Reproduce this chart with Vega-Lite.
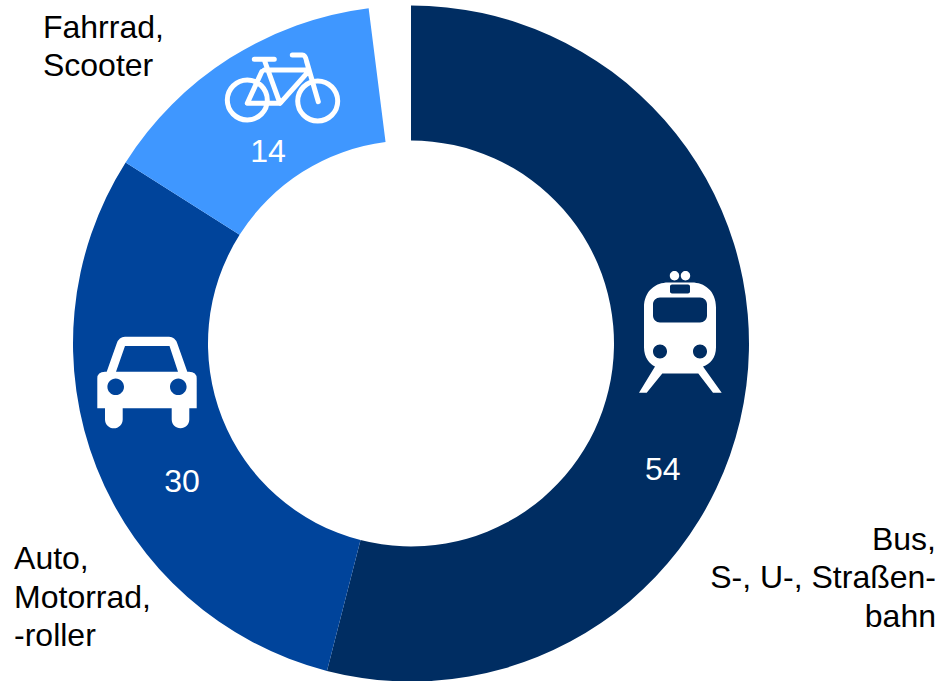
{
"$schema":"https://vega.github.io/schema/vega-lite/v6.json",
"width":822,"height":687,
"autosize":{"type":"none"},
"padding":{"left":0,"top":0,"right":122,"bottom":-6},
"background":"white",
"config":{"view":{"stroke":null}},
"layer":[
{"data":{"values":[
{"mode":"Bus, S-, U-, Straßenbahn","value":54,"ord":1},
{"mode":"Auto, Motorrad, -roller","value":30,"ord":2},
{"mode":"Fahrrad, Scooter","value":14,"ord":3}]},
"mark":{"type":"arc","outerRadius":338,"innerRadius":203},
"encoding":{
"theta":{"field":"value","type":"quantitative","stack":true,"scale":{"domain":[0,100]}},
"order":{"field":"ord","type":"ordinal"},
"color":{"field":"mode","type":"nominal","legend":null,"scale":{"domain":["Bus, S-, U-, Straßenbahn","Auto, Motorrad, -roller","Fahrrad, Scooter"],"range":["#002d62","#00449b","#3f97ff"]}}}},
{"data":{"values":[
{"label":"54","along":32.43,"ring":0.834},
{"label":"30","along":66.32,"ring":0.7926},
{"label":"14","along":89.81,"ring":0.708}]},
"mark":{"type":"text","font":"Liberation Sans","fontSize":32,"color":"white","align":"center","baseline":"middle"},
"encoding":{"theta":{"field":"along","type":"quantitative","stack":false},
"radius":{"field":"ring","type":"quantitative","scale":{"domain":[0,1],"range":[0,338]}},
"text":{"field":"label"}}},
{"data":{"values":[
{"label":"Auto,\nMotorrad,\n-roller","along":67.07,"ring":1.337},
{"label":"Fahrrad,\nScooter","along":86.29,"ring":1.435}]},
"mark":{"type":"text","font":"Liberation Sans","fontSize":32,"color":"black","align":"left","baseline":"middle","lineBreak":"\n","lineHeight":38.5},
"encoding":{"theta":{"field":"along","type":"quantitative","stack":false},
"radius":{"field":"ring","type":"quantitative","scale":{"domain":[0,1],"range":[0,338]}},
"text":{"field":"label"}}},
{"data":{"values":[
{"label":"Bus,\nS-, U-, Straßen-\nbahn","along":30.69,"ring":1.658}]},
"mark":{"type":"text","font":"Liberation Sans","fontSize":32,"color":"black","align":"right","baseline":"middle","lineBreak":"\n","lineHeight":38.5},
"encoding":{"theta":{"field":"along","type":"quantitative","stack":false},
"radius":{"field":"ring","type":"quantitative","scale":{"domain":[0,1],"range":[0,338]}},
"text":{"field":"label"}}},
{"data":{"values":[{"icon":"train","h":269,"v":13}]},
"mark":{"type":"point","filled":true,"fill":"white","stroke":null,"opacity":1,"size":40000,
"shape":"M-.36 -.23 C-.36 -.40 -.24 -.48 -.12 -.48 L.12 -.48 C.24 -.48 .36 -.40 .36 -.23 L.36 .17 C.36 .27 .30 .34 .23 .36 L.417 .623 L.33 .623 L.183 .43 L-.177 .43 L-.333 .623 L-.41 .623 L-.25 .36 C-.30 .34 -.36 .27 -.36 .17 Z M-.20 -.33 A.07 .07 0 0 0 -.27 -.26 L-.27 -.15 A.07 .07 0 0 0 -.20 -.08 L.20 -.08 A.07 .07 0 0 0 .27 -.15 L.27 -.26 A.07 .07 0 0 0 .20 -.33 Z M-.08 -.46 A.02 .02 0 0 0 -.10 -.44 L-.10 -.39 A.02 .02 0 0 0 -.08 -.37 L.08 -.37 A.02 .02 0 0 0 .10 -.39 L.10 -.44 A.02 .02 0 0 0 .08 -.46 Z M-.27 .21 A.07 .07 0 1 0 -.13 .21 A.07 .07 0 1 0 -.27 .21 Z M.13 .21 A.07 .07 0 1 0 .27 .21 A.07 .07 0 1 0 .13 .21 Z M-.102 -.547 A.047 .047 0 1 1 -.008 -.547 A.047 .047 0 1 1 -.102 -.547 Z M.008 -.547 A.047 .047 0 1 1 .102 -.547 A.047 .047 0 1 1 .008 -.547 Z"},
"encoding":{"x":{"field":"h","type":"quantitative","axis":null,"scale":{"domain":[-411,411]}},"y":{"field":"v","type":"quantitative","axis":null,"scale":{"domain":[-343.5,343.5]}}}},
{"data":{"values":[{"icon":"car","h":-264,"v":-39}]},
"mark":{"type":"point","filled":true,"fill":"white","stroke":null,"opacity":1,"size":40000,
"shape":"M-.497 -.04 Q-.497 -.108 -.42 -.108 L-.403 -.108 L-.303 -.39 Q-.28 -.458 -.22 -.458 L.22 -.458 Q.28 -.458 .303 -.39 L.403 -.108 L.42 -.108 Q.497 -.108 .497 -.04 L.497 .258 L.423 .258 L.423 .37 A.088 .088 0 0 1 .247 .37 L.247 .258 L-.243 .258 L-.243 .37 A.088 .088 0 0 1 -.42 .37 L-.42 .258 L-.497 .258 Z M-.22 -.365 L-.31 -.108 L.31 -.108 L.225 -.365 Z M-.396 .042 A.083 .083 0 1 0 -.23 .042 A.083 .083 0 1 0 -.396 .042 Z M.23 .042 A.083 .083 0 1 0 .396 .042 A.083 .083 0 1 0 .23 .042 Z"},
"encoding":{"x":{"field":"h","type":"quantitative","axis":null,"scale":{"domain":[-411,411]}},"y":{"field":"v","type":"quantitative","axis":null,"scale":{"domain":[-343.5,343.5]}}}},
{"data":{"values":[{"icon":"bike","h":-129,"v":254.8}]},
"mark":{"type":"point","filled":false,"fill":null,"stroke":"white","strokeWidth":5,"strokeCap":"round","strokeJoin":"round","opacity":1,"size":40000,
"shape":"M-.547 .113 A.2 .2 0 1 1 -.147 .113 A.2 .2 0 1 1 -.547 .113 Z M.157 .123 A.2 .2 0 1 1 .557 .123 A.2 .2 0 1 1 .157 .123 Z M-.277 -.294 L-.077 -.294 M-.177 -.287 L-.02 .146 M-.203 -.17 L-.347 .146 L-.02 .146 L.263 -.17 M-.177 -.187 L.247 -.187 M.103 -.337 L.203 -.337 Q.235 -.337 .247 -.27 L.363 .13"},
"encoding":{"x":{"field":"h","type":"quantitative","axis":null,"scale":{"domain":[-411,411]}},"y":{"field":"v","type":"quantitative","axis":null,"scale":{"domain":[-343.5,343.5]}}}}
],
"resolve":{"scale":{"theta":"shared","radius":"shared"}}
}
